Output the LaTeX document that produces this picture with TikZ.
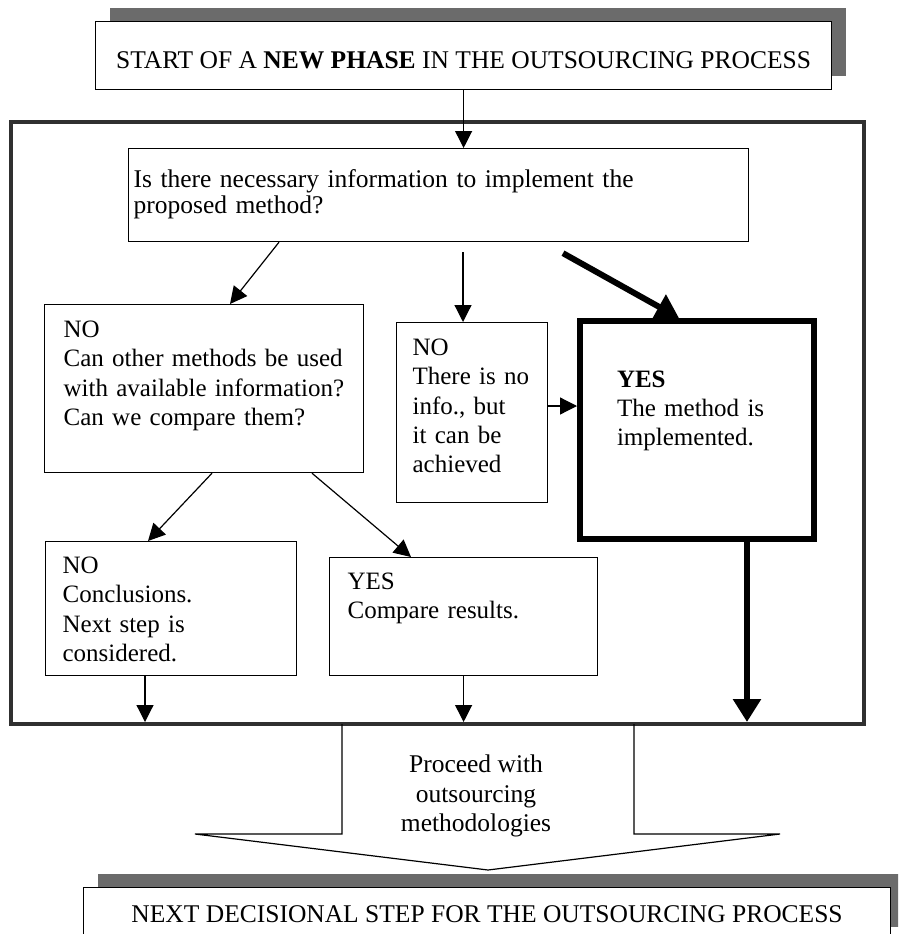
\documentclass[tikz,border=0pt]{standalone}
\usepackage{fontspec}
\setmainfont{Liberation Serif}
\usetikzlibrary{arrows.meta, shadows, calc}

\definecolor{shadowgray}{RGB}{107,107,107}
\definecolor{framegray}{RGB}{48,48,48}
\newcommand{\flowfont}{\fontsize{25.5}{29.3}\selectfont}
\newcommand{\boxfont}{\fontsize{25}{29.3}\selectfont}
\newcommand{\boxlines}[1]{\begin{tabular}[t]{@{}l@{}}#1\end{tabular}}

\begin{document}
\begin{tikzpicture}[x=1pt, y=-1pt,
    every node/.style={font=\flowfont},
    box/.style={draw, line width=1.2pt, anchor=north west, align=left, text height=17.5pt, font=\boxfont},
    headbox/.style={draw, line width=1.2pt, fill=white, inner sep=0pt, anchor=north west,
      drop shadow={shadow xshift=14pt, shadow yshift=14pt, fill=shadowgray, opacity=1}},
    arr/.style={-{Triangle[length=17pt, width=17pt]}, line width=1.2pt},
    boldarr/.style={-{Triangle[length=23pt, width=27pt]}, line width=6pt}]
 \clip (0,0) rectangle (898,934);

 \node[draw=framegray, line width=4.5pt, outer sep=0pt, inner sep=0pt, anchor=north west,
   minimum width=853pt, minimum height=602pt] (frame) at (11,122) {};

 \node[headbox, minimum width=736pt, minimum height=68pt, text height=26pt, text depth=0pt]
   (start) at (95,21) {START OF A \textbf{NEW PHASE} IN THE OUTSOURCING PROCESS};

 \node[box, text width=610pt, inner xsep=5pt, inner ysep=21.5pt, text depth=32.5pt,
   font=\fontsize{25.5}{26}\selectfont] (qbox) at (128,148)
   {Is there necessary information to implement the\\proposed method?};

 \node[box, text width=281pt, inner xsep=19pt, inner ysep=15.5pt, text depth=119.5pt]
   (no1) at (44,304) {\boxlines{NO\\Can other methods be used\\with available information?\\Can we compare them?}};
 \node[box, text width=119pt, inner xsep=16pt, inner ysep=15.5pt, text depth=131.5pt]
   (no2) at (396,322) {\boxlines{NO\\There is no\\info., but\\it can be\\achieved}};
 \node[box, line width=6pt, text width=160pt, inner xsep=37pt, inner ysep=48.5pt, text depth=103.5pt]
   (yes1) at (577,318) {\boxlines{\textbf{YES}\\The method is\\implemented.}};
 \node[box, text width=217pt, inner xsep=17pt, inner ysep=14.5pt, text depth=87.5pt]
   (no3) at (45,541) {\boxlines{NO\\Conclusions.\\Next step is\\considered.}};
 \node[box, text width=232pt, inner xsep=18pt, inner ysep=14.5pt, text depth=71.5pt]
   (yes2) at (329,557) {\boxlines{YES\\Compare results.}};

 \coordinate (q2) at ([xshift=67pt]no2.north west);
 \coordinate (n2r) at ([yshift=-84pt]no2.north east);
 \coordinate (n3b) at ([xshift=100pt]no3.south west);
 \coordinate (y1b) at ([xshift=170pt]yes1.south west);

 \draw[arr] (start.south) -- (start.south |- qbox.north);
 \draw[arr] ([xshift=151pt]qbox.south west) -- ([xshift=186pt]no1.north west);
 \draw[arr] ($(q2 |- qbox.south)+(0,10)$) -- (q2);
 \draw[boldarr] ($(qbox.south west)+(435,11)$) -- ([xshift=102pt]yes1.north west);
 \draw[arr] (n2r) -- (n2r -| yes1.west);
 \draw[arr] ([xshift=168pt]no1.south west) -- ([xshift=103pt]no3.north west);
 \draw[arr] ([xshift=268pt]no1.south west) -- ([xshift=82pt]yes2.north west);
 \draw[arr, shorten >=2pt] (n3b) -- (n3b |- frame.south);
 \draw[arr, shorten >=2pt] (yes2.south) -- (yes2.south |- frame.south);
 \draw[boldarr, shorten >=2pt] (y1b) -- (y1b |- frame.south);

 \draw[line width=1.2pt] (342,724) -- (342,834) -- (195,834) -- (488,870)
   -- (780,834) -- (634,834) -- (634,724);
 \node[align=center, inner sep=0pt] (proceed) at (476,796)
   {Proceed with\\outsourcing\\methodologies};

 \node[headbox, minimum width=807pt, minimum height=53pt]
   (next) at (83,887) {NEXT DECISIONAL STEP FOR THE OUTSOURCING PROCESS};
\end{tikzpicture}
\end{document}
